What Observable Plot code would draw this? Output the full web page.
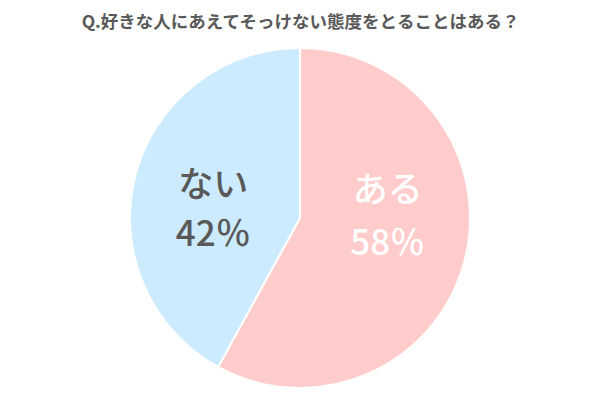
<!DOCTYPE html>
<html><head><meta charset="utf-8">
<script src="https://cdn.jsdelivr.net/npm/d3@7"></script>
<script src="https://cdn.jsdelivr.net/npm/@observablehq/plot@0.6"></script>
<style>body{margin:0;background:#fff;font-family:"Noto Sans CJK JP",sans-serif}</style>
</head><body><div id="chart"></div>
<script>
const title = "Q.好きな人にあえてそっけない態度をとることはある？";
const categories = ["ある", "ない"];
const values = [58, 42];
const sliceColors = ["#FFCCCC", "#CCEBFF"];
const labelColors = ["#ffffff", "#595959"];

const W = 600, H = 400, cx = 300, cy = 218, R = 170, labelR = 90, fs = 35;
const data = categories.map((c, i) => ({category: c, value: values[i]}));
const arcs = d3.pie().sort(null).value(d => d.value)(data);
const labels = arcs.map((a, i) => {
  const mid = (a.startAngle + a.endAngle) / 2;
  const dx = Math.sin(mid), dy = -Math.cos(mid);
  const yCat = cy - 35 + dy * 8, yPct = cy + 16 + dy * 16;
  return {
    text: a.data.category + "\n" + a.data.value + "％",
    x: cx + dx * labelR,
    y: (yCat + yPct) / 2,
    gap: yPct - yCat,
    color: labelColors[i]
  };
});

const slices = Plot.dot(arcs, {
  x: () => cx, y: () => cy,
  render: (index, scales, values) => {
    const arc = d3.arc().innerRadius(0).outerRadius(R);
    const g = d3.create("svg:g");
    g.selectAll("path").data(index).join("path")
      .attr("transform", i => `translate(${values.x[i]},${values.y[i]})`)
      .attr("d", i => arc(arcs[i]))
      .attr("fill", i => scales.color(arcs[i].data.category))
      .attr("stroke", "#fff").attr("stroke-width", 2).attr("stroke-linejoin", "round");
    return g.node();
  }
});

const chart = Plot.plot({
  width: W, height: H,
  margin: 0,
  x: {type: "identity", axis: null},
  y: {type: "identity", axis: null},
  color: {domain: categories, range: sliceColors},
  style: {fontFamily: '"Noto Sans CJK JP", sans-serif', background: "#fff"},
  marks: [
    slices,
    ...labels.map(l => Plot.text([l], {x: "x", y: "y", text: "text", fill: "color", fontSize: fs, fontWeight: 500, textAnchor: "middle", lineAnchor: "middle", lineHeight: l.gap / fs})),
    Plot.text([title], {x: () => cx, y: () => 22, text: d => d, fill: "#595959", fontSize: 17.5, fontWeight: 700, textAnchor: "middle"})
  ]
});
document.getElementById("chart").appendChild(chart);
</script>
</body></html>
